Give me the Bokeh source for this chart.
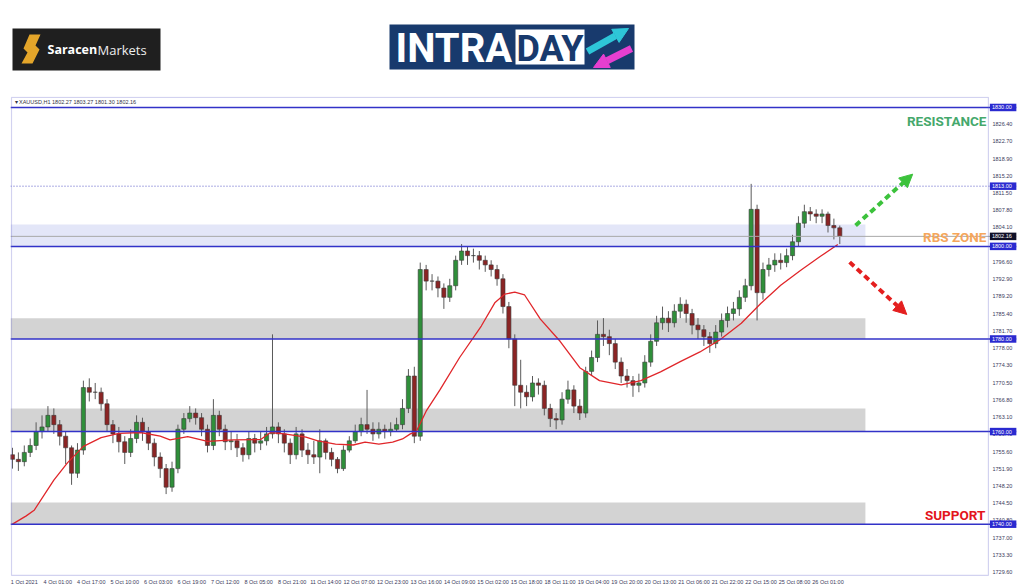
from bokeh.plotting import figure
from bokeh.models import (Range1d, FixedTicker, ColumnDataSource, Span, Label, Arrow,
                          NormalHead, NumeralTickFormatter, BoxAnnotation)
from bokeh.layouts import column
from bokeh.embed import file_html
from bokeh.resources import INLINE
from bokeh.core.properties import value

# ---------------- data (XAUUSD, 3-hour aggregation of the H1 chart) ----------------
bar_step = 3  # hours per candle
first_open = 1755
closes = [1754, 1753.5, 1755.5, 1757, 1760, 1761, 1763.5, 1761.5, 1759, 1756.5,
          1751, 1756, 1769.5, 1768.5, 1768.5, 1766, 1761.5, 1759.5, 1757.8, 1755.5,
          1758.5, 1762, 1760, 1757.5, 1754.5, 1752, 1748, 1752, 1760.5, 1762.8,
          1764, 1763, 1760.5, 1757, 1763.5, 1760.5, 1757.8, 1758, 1756.5, 1755,
          1758.5, 1757.5, 1758, 1759.5, 1761, 1759.5, 1757.5, 1755, 1759.5, 1756,
          1755, 1754.5, 1758, 1755.5, 1754, 1752, 1756, 1758, 1760, 1761.5,
          1760.5, 1759.5, 1760.5, 1760, 1760.5, 1761.5, 1765, 1772, 1759, 1795,
          1792.5, 1792.5, 1791, 1789, 1791.5, 1797, 1799, 1798, 1798, 1797,
          1796, 1795, 1793, 1787, 1780, 1770, 1768.5, 1767.5, 1770.5, 1770,
          1765, 1762.8, 1762.5, 1767, 1769, 1765.5, 1764, 1773, 1776, 1781,
          1780.5, 1779, 1775, 1772, 1771, 1770, 1770.5, 1775, 1779.5, 1783.5,
          1784.5, 1783.5, 1786, 1787.5, 1785.5, 1783, 1782, 1780.5, 1779, 1781.5,
          1784, 1785.5, 1786.5, 1789, 1791.5, 1808, 1790, 1795, 1796, 1797,
          1796.5, 1798, 1801, 1805, 1807.5, 1807, 1806.5, 1807, 1804.5, 1804,
          1802.16]
highs = [1756.5, 1755.5, 1757, 1758.5, 1762, 1763.5, 1765.5, 1765, 1762.5, 1760,
         1757, 1757.5, 1771, 1771.5, 1770.5, 1769.5, 1767, 1762.5, 1761, 1759,
         1760.5, 1763.5, 1763, 1761, 1758.5, 1755.5, 1753, 1753.5, 1761.5, 1764,
         1765.5, 1765, 1764, 1761.5, 1767, 1764.5, 1761.5, 1760, 1759.5, 1757.5,
         1760, 1759.5, 1760, 1761, 1781, 1762, 1760.5, 1758.5, 1761, 1760.5,
         1757.5, 1758, 1760.5, 1758.5, 1756.5, 1754.5, 1757, 1759, 1761.5, 1763,
         1769, 1762, 1762, 1761.5, 1762, 1763, 1767, 1773.5, 1774, 1796.5,
         1796, 1794, 1793.5, 1792, 1793, 1798, 1800.5, 1800, 1799.5, 1799,
         1798, 1797, 1796, 1794, 1788, 1781, 1775.5, 1770, 1772, 1771.5,
         1771, 1766, 1764, 1768.5, 1771, 1770, 1767, 1774, 1777.5, 1784,
         1784.5, 1782, 1780, 1776, 1773.5, 1772, 1772.5, 1776.5, 1781, 1785,
         1787, 1786, 1787.5, 1789, 1788.5, 1786.5, 1784.5, 1783, 1781.5, 1783,
         1785.5, 1787, 1788, 1790.5, 1793, 1813.5, 1809, 1796.5, 1797.5, 1798.5,
         1798.5, 1799.5, 1802.5, 1806.5, 1809, 1808.5, 1808, 1808, 1807.5, 1806,
         1804.5]
lows = [1752, 1751.5, 1752.5, 1754.5, 1756, 1758.5, 1760, 1759.5, 1757, 1753,
        1748.5, 1750, 1755, 1766.5, 1767, 1764.5, 1760, 1757.5, 1755.5, 1753,
        1754.5, 1757.5, 1758, 1756, 1752.5, 1750, 1746.5, 1747, 1751, 1759.5,
        1762, 1761.5, 1759, 1755.5, 1756, 1759, 1756, 1756, 1754.5, 1753.5,
        1754, 1755.5, 1756, 1757, 1758.5, 1757.5, 1755.5, 1753, 1754, 1754.5,
        1753, 1753, 1751, 1754, 1752.5, 1751, 1751.5, 1755.5, 1757.5, 1759,
        1759.5, 1758, 1758.5, 1758.5, 1759, 1760, 1760.5, 1764, 1757.5, 1758,
        1790.5, 1790.5, 1789, 1786.5, 1788, 1790.5, 1796, 1796, 1796.5, 1795,
        1794.5, 1793.5, 1791.5, 1785.5, 1778, 1765.5, 1765, 1765.5, 1766.5, 1768,
        1763.5, 1761, 1760.5, 1761.5, 1766, 1764, 1762.5, 1763, 1772, 1775,
        1778.5, 1776.5, 1773.5, 1770.5, 1769.5, 1767.5, 1768.5, 1769.5, 1774, 1778.5,
        1782, 1781.5, 1782.5, 1784.5, 1783.5, 1781, 1780, 1778.5, 1777, 1778,
        1780.5, 1782.5, 1784, 1785, 1788, 1790.5, 1784, 1788.5, 1793.5, 1794.5,
        1795, 1795.5, 1797, 1800, 1804, 1805.5, 1805, 1805, 1803, 1801.5,
        1800.5]

# moving average: hour index and value
ma_idx = [0, 7, 11, 21, 28, 36, 45, 54, 65, 75, 80, 89, 99, 112, 126, 131, 138, 149,
          155, 164, 173, 179, 186, 193, 198, 202, 205, 210, 217, 227, 238, 245, 250,
          255, 260, 268, 278, 288, 298, 309, 319, 329, 339, 349, 359, 370, 380, 390,
          400, 410, 419]
ma_val = [1740, 1741.8, 1743, 1749.5, 1753.3, 1756.8, 1758.7, 1759.6, 1759.8, 1759,
          1758.2, 1758.9, 1757.9, 1758.2, 1758.3, 1759.8, 1759.5, 1758.8, 1758, 1757.3,
          1757.1, 1757.7, 1757.3, 1757.7, 1758.4, 1759.5, 1760, 1764.4, 1769, 1776,
          1782.8, 1787.9, 1789.7, 1790.1, 1789.5, 1784.3, 1779.5, 1773.8, 1771, 1770.1,
          1771, 1772.9, 1775.1, 1777.2, 1779.8, 1783.4, 1787.7, 1791.6, 1794.8, 1797.8,
          1800.4]

# x-axis labels, one every 17 hourly bars
x_labels = ["1 Oct 2021", "4 Oct 01:00", "4 Oct 17:00", "5 Oct 10:00", "6 Oct 03:00",
            "6 Oct 19:00", "7 Oct 12:00", "8 Oct 05:00", "8 Oct 21:00", "11 Oct 14:00",
            "12 Oct 07:00", "12 Oct 23:00", "13 Oct 16:00", "14 Oct 09:00", "15 Oct 02:00",
            "15 Oct 18:00", "18 Oct 11:00", "19 Oct 04:00", "19 Oct 20:00", "20 Oct 13:00",
            "21 Oct 06:00", "21 Oct 22:00", "22 Oct 15:00", "25 Oct 08:00", "26 Oct 01:00"]
label_every = 17

y_ticks = [1826.40, 1822.70, 1818.90, 1815.20, 1811.50, 1807.80, 1804.10, 1796.60,
           1792.90, 1789.20, 1785.40, 1781.70, 1778.00, 1774.30, 1770.50, 1766.80,
           1763.10, 1759.40, 1755.60, 1751.90, 1748.20, 1744.50, 1740.80, 1737.00,
           1733.30, 1729.60]

levels = [1830, 1800, 1780, 1760, 1740]
dotted_level = 1813
last_price = 1802.16
zone_bottom = [1780, 1760, 1740, 1800]
zone_top = [1784.5, 1765, 1744.7, 1804.7]
zone_color = ["#d3d3d3", "#d3d3d3", "#d3d3d3", "#e3e6f8"]
zone_end = 433

# ---------------- header figure (logos) ----------------
hdr = figure(width=1024, height=95, x_range=Range1d(10, 1016), y_range=Range1d(95, 0),
             output_backend="svg", toolbar_location=None,
             min_border_left=10, min_border_right=8, min_border_top=0, min_border_bottom=0)
hdr.axis.visible = False
hdr.grid.visible = False
hdr.outline_line_color = None

hdr.quad(left=12, right=160, top=28, bottom=70, fill_color="#1f1f1f", line_color=None)
hdr.patch(x=[29, 40, 35, 39, 32, 21, 27, 23], y=[34, 34, 45, 49, 63, 63, 52, 48],
          fill_color="#e3a52a", line_color=None)
hdr.text(x=[47], y=[49], text=["Saracen"], text_font=value("Open Sans"), text_font_style="bold",
         text_font_size="12.5px", text_color="white", text_baseline="middle")
hdr.text(x=[97], y=[49], text=["Markets"], text_font=value("Open Sans"),
         text_font_size="13px", text_color="#eeeeee", text_baseline="middle")

hdr.quad(left=389, right=634, top=24, bottom=69, fill_color="#183a6d", line_color=None)
hdr.quad(left=515, right=584, top=29, bottom=64, fill_color="white", line_color=None)
hdr.text(x=[395], y=[48], text=["INTRA"], text_font=value("Roboto"), text_font_style="bold",
         text_font_size="40px", text_color="white", text_baseline="middle")
hdr.text(x=[549.5], y=[48], text=["DAY"], text_font=value("Roboto"), text_font_style="bold",
         text_font_size="36px", text_color="#183a6d", text_baseline="middle", text_align="center")
hdr.add_layout(Arrow(end=NormalHead(size=15, fill_color="#2ec6d8", line_color="#2ec6d8"),
                     x_start=587, y_start=51, x_end=628, y_end=28,
                     line_color="#2ec6d8", line_width=7))
hdr.add_layout(Arrow(end=NormalHead(size=15, fill_color="#e63fd0", line_color="#e63fd0"),
                     x_start=631, y_start=48, x_end=593, y_end=67,
                     line_color="#e63fd0", line_width=7))

# ---------------- main chart ----------------
n = len(closes)
xs = [i * bar_step for i in range(n)]
opens = [first_open] + closes[:-1]
colors = ["#2f8f3a" if c >= o else "#8b2424" for o, c in zip(opens, closes)]
src = ColumnDataSource(dict(x=xs, open=opens, close=closes, high=highs, low=lows,
                            top=[max(o, c) for o, c in zip(opens, closes)],
                            bottom=[min(o, c) for o, c in zip(opens, closes)],
                            color=colors))

x0, x1 = -1, 509.7
axis_x = 495.45          # where the price scale line sits
tag_center = 502.9       # centre of the price tags right of the scale line
y0, y1 = 1728.7, 1832.37
p = figure(width=1024, height=492, x_range=Range1d(x0, x1), y_range=Range1d(y0, y1),
           output_backend="svg", toolbar_location=None, y_axis_location="right",
           min_border_left=10, min_border_right=8, min_border_top=1, min_border_bottom=9)
p.grid.visible = False
p.outline_line_color = None
p.background_fill_color = "white"

# zones
p.quad(left=[x0] * len(zone_bottom), right=[zone_end] * len(zone_bottom),
       bottom=zone_bottom, top=zone_top, fill_color=zone_color, line_color=None)

# level lines
for lv in levels:
    p.add_layout(Span(location=lv, dimension="width", line_color="#3232c8", line_width=1.5))
p.add_layout(Span(location=dotted_level, dimension="width", line_color="#5a5ac8",
                  line_width=1, line_dash="1 2"))
p.add_layout(Span(location=last_price, dimension="width", line_color="#a8a8a8", line_width=1))

# chart box (ends at the price scale line)
frame_col = "#6a6acc"
p.add_layout(BoxAnnotation(left=x0 + 0.5, right=axis_x, bottom=y0 + 0.25, top=y1 - 0.2,
                           fill_alpha=0, line_color=frame_col, line_width=1.2))

# candles
p.segment(x0="x", y0="low", x1="x", y1="high", source=src, line_color="#5a5a5a", line_width=1)
p.vbar(x="x", width=2.1, top="top", bottom="bottom", source=src, fill_color="color",
       line_color="#3a3a3a", line_width=0.6)

# moving average
p.line(ma_idx, ma_val, line_color="#e0262a", line_width=1.3)

# arrows
p.add_layout(Arrow(end=NormalHead(size=13, fill_color="#3cc23c", line_color="#3cc23c"),
                   x_start=428, y_start=1804.5, x_end=457, y_end=1815.6,
                   line_color="#3cc23c", line_width=4, line_dash="6 4"))
p.add_layout(Arrow(end=NormalHead(size=13, fill_color="#e41f1f", line_color="#e41f1f"),
                   x_start=425, y_start=1796.6, x_end=454, y_end=1785.3,
                   line_color="#e41f1f", line_width=4, line_dash="6 4"))

# texts
txt_font = "Roboto"
p.add_layout(Label(x=axis_x, y=1827.0, x_offset=-2, text="RESISTANCE", text_align="right",
                   text_baseline="middle", text_font=txt_font, text_font_style="bold",
                   text_font_size="13.5px", text_color="#45a86c"))
p.add_layout(Label(x=axis_x, y=1802.0, x_offset=-2, text="RBS ZONE", text_align="right",
                   text_baseline="middle", text_font=txt_font, text_font_style="bold",
                   text_font_size="13.5px", text_color="#f5a65b"))
p.add_layout(Label(x=axis_x, y=1741.9, x_offset=-3, text="SUPPORT", text_align="right",
                   text_baseline="middle", text_font=txt_font, text_font_style="bold",
                   text_font_size="13.5px", text_color="#e3141c"))
p.add_layout(Label(x=x0, y=y1, x_offset=4, y_offset=-2,
                   text="\u25be XAUUSD,H1  1802.27 1803.27 1801.30 1802.16",
                   text_baseline="top", text_font="Liberation Sans",
                   text_font_size="5.5px", text_color="#333344"))

# axes: price scale labels drawn just right of the scale line
ya = p.yaxis[0]
ya.ticker = FixedTicker(ticks=y_ticks)
ya.formatter = NumeralTickFormatter(format="0.00")
ya.major_label_text_font = "Liberation Sans"
ya.major_label_text_font_size = "5.5px"
ya.major_label_text_color = "#3a3a5a"
ya.major_tick_out = 0
ya.major_tick_in = 0
ya.minor_tick_out = 0
ya.minor_tick_in = 0
ya.major_label_standoff = -24
ya.axis_line_color = None

xa = p.xaxis[0]
tick_pos = [i * label_every + 6 for i in range(len(x_labels))]
xa.ticker = FixedTicker(ticks=tick_pos)
xa.major_label_overrides = {t: s for t, s in zip(tick_pos, x_labels)}
xa.major_label_text_font = "Liberation Sans"
xa.major_label_text_font_size = "5.5px"
xa.major_label_text_color = "#3a3a5a"
xa.major_tick_out = 0
xa.major_tick_in = 0
xa.minor_tick_out = 0
xa.minor_tick_in = 0
xa.major_label_standoff = 2
xa.axis_line_color = None

# highlighted price tags on the right scale (drawn above the scale labels)
tag_vals = levels + [dotted_level, last_price]
tag_cols = ["#2a2ad0"] * (len(levels) + 1) + ["#101028"]
r_tag = p.rect(x=[tag_center] * len(tag_vals), y=tag_vals, width=26.5, height=7.5,
               width_units="screen", height_units="screen", fill_color=tag_cols, line_color=None)
r_tag.level = "overlay"
r_tag_txt = p.text(x=[axis_x] * len(tag_vals), y=tag_vals, text=[f"{v:.2f}" for v in tag_vals],
                   x_offset=3.5, text_baseline="middle", text_align="left",
                   text_font=value("Liberation Sans"), text_font_size="5.5px", text_color="white")
r_tag_txt.level = "overlay"

layout = column(hdr, p, spacing=0)
open("out.html", "w").write(file_html(layout, INLINE))
